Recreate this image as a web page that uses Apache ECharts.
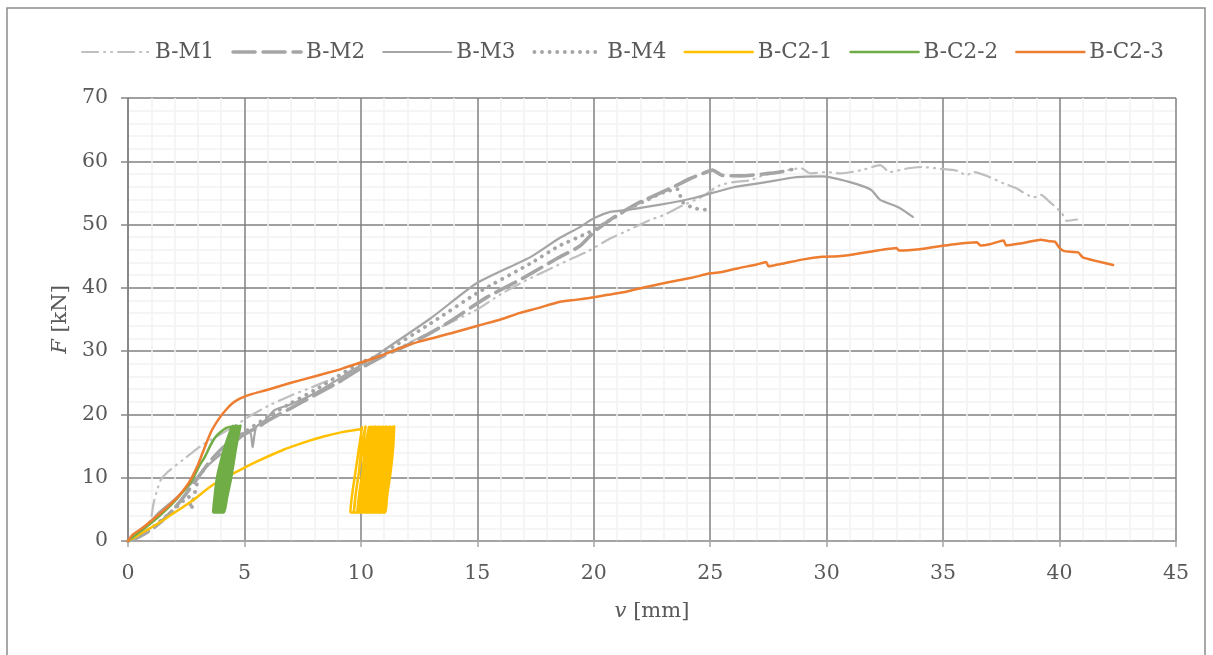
<!DOCTYPE html>
<html>
<head>
<meta charset="utf-8">
<script src="https://cdn.jsdelivr.net/npm/echarts@6/dist/echarts.min.js"></script>
<style>html,body{margin:0;padding:0;background:#fff;}#c{width:1213px;height:655px;}</style>
</head>
<body>
<div id="c"></div>
<script>
const seriesNames = ['B-M1','B-M2','B-M3','B-M4','B-C2-1','B-C2-2','B-C2-3'];
const xTicks = [0,5,10,15,20,25,30,35,40,45];
const yTicks = [0,10,20,30,40,50,60,70];

const bM1 = [[0,0],[0.4,0.8],[0.8,2.2],[1.0,3.8],[1.1,6.0],[1.25,8.0],[1.4,9.6],[1.7,10.9],[2.35,12.8],[2.8,14.1],[3.2,15.2],[3.8,16.5],[4.5,18],[5.3,19.9],[6.1,21.5],[7.0,23.0],[7.9,24.3],[9.0,26.0],[10,27.6],[11,29.5],[12,31.2],[13,33],[14,34.8],[15,36.6],[16,39],[17.1,41.2],[18,42.8],[19.1,44.7],[19.7,45.7],[20.7,47.8],[21.3,48.8],[22.4,50.7],[23,51.5],[23.8,53],[24.6,54.3],[25.4,56.2],[26,56.7],[26.7,57.0],[27.3,57.8],[27.9,58.3],[28.9,58.9],[29.3,58.1],[30,58.3],[30.6,58.1],[31.5,58.6],[32.3,59.4],[32.7,58.3],[33.5,58.9],[34.1,59.1],[34.9,58.8],[35.6,58.5],[36.0,57.8],[36.3,58.3],[37.0,57.5],[37.6,56.5],[38.1,55.8],[38.9,54.3],[39.2,54.7],[39.6,53.5],[40.1,51.8],[40.3,50.6],[40.75,50.8]];

const bM2 = [[0,0],[0.5,0.7],[1,1.8],[1.5,3.3],[2,5.2],[2.5,7.5],[3,10],[3.5,12.5],[4,14.5],[4.5,16],[5,17],[5.5,17.8],[6,19],[7,21],[8,23],[9,25],[10,27.3],[11,29.3],[12.2,31.3],[13.7,34.4],[15.4,38.5],[16.8,41.2],[18.4,44.6],[19.4,46.6],[20,48.8],[20.8,51.0],[21.9,53.4],[23.4,55.9],[24.1,57.2],[24.7,58.1],[25.1,58.6],[25.5,57.8],[26.3,57.7],[27.3,58.0],[28,58.3],[28.5,58.7]];

const bM3 = [[0,0],[0.5,1.2],[1.3,4.4],[2,6.6],[2.75,9.2],[3.45,12],[4.05,13.9],[4.47,15.2],[4.9,16.5],[5.25,17.2],[5.35,14.8],[5.5,18.0],[5.9,19.1],[6.3,20.7],[7,21.6],[8,23.3],[9,25.5],[10,27.8],[10.8,29.7],[13,35.2],[15,40.8],[17.3,44.9],[18.5,47.8],[19.4,49.6],[20,51],[20.7,52],[21.4,52.3],[22.8,53.1],[24.3,54.2],[26,55.9],[27.4,56.7],[28.7,57.5],[29.8,57.6],[31.0,56.7],[31.9,55.5],[32.3,53.9],[33.1,52.7],[33.7,51.2]];

const bM4 = [[0,0],[0.5,0.8],[1,2.0],[1.5,3.5],[2.1,5.4],[2.6,7.0],[2.72,5.0],[2.8,6.5],[2.96,9.0],[3.1,10.4],[3.45,12.2],[3.9,14.0],[4.4,15.6],[5,17.2],[6,19.6],[7,21.8],[8,23.8],[9,26],[10,28.2],[10.8,29.4],[13,34.4],[15,39.2],[17.3,43.9],[18.5,46.6],[19.8,48.8],[20.7,50.7],[21.4,52.3],[22.3,53.9],[23,55.1],[23.6,55.6],[23.8,53.6],[24.3,52.6],[24.9,52.3]];

const bC21 = [[0,0],[0.3,0.6],[0.7,1.5],[1.3,2.8],[2.0,4.5],[2.7,6.2],[3.7,9.0],[4.9,11.4],[5.5,12.5],[6.6,14.3],[7.5,15.5],[8.4,16.5],[9.2,17.2],[10.0,17.7],
[10.05,18.0],[9.93,15],[9.77,11],[9.63,7.5],[9.55,4.6],[9.67,4.5],[9.78,7.5],[9.92,11],[10.03,15],
[10.2,18.1],[10.08,15],[9.92,11],[9.78,7.5],[9.7,4.6],[9.82,4.5],[9.93,7.5],[10.07,11],[10.18,15],
[10.35,18.0],[10.23,15],[10.07,11],[9.93,7.5],[9.85,4.6],[9.97,4.5],[10.08,7.5],[10.22,11],[10.33,15],
[10.45,18.1],[10.33,15],[10.17,11],[10.03,7.5],[9.95,4.6],[10.07,4.5],[10.18,7.5],[10.32,11],[10.43,15],
[10.53,18.0],[10.41,15],[10.25,11],[10.11,7.5],[10.03,4.6],[10.15,4.5],[10.26,7.5],[10.40,11],[10.51,15],
[10.61,18.1],[10.49,15],[10.33,11],[10.19,7.5],[10.11,4.6],[10.23,4.5],[10.34,7.5],[10.48,11],[10.59,15],
[10.69,18.0],[10.57,15],[10.41,11],[10.27,7.5],[10.19,4.6],[10.31,4.5],[10.42,7.5],[10.56,11],[10.67,15],
[10.77,18.1],[10.65,15],[10.49,11],[10.35,7.5],[10.27,4.6],[10.39,4.5],[10.50,7.5],[10.64,11],[10.75,15],
[10.85,18.0],[10.73,15],[10.57,11],[10.43,7.5],[10.35,4.6],[10.47,4.5],[10.58,7.5],[10.72,11],[10.83,15],
[10.93,18.1],[10.81,15],[10.65,11],[10.51,7.5],[10.43,4.6],[10.55,4.5],[10.66,7.5],[10.80,11],[10.91,15],
[11.01,18.0],[10.89,15],[10.73,11],[10.59,7.5],[10.51,4.6],[10.63,4.5],[10.74,7.5],[10.88,11],[10.99,15],
[11.09,18.1],[10.97,15],[10.81,11],[10.67,7.5],[10.59,4.6],[10.71,4.5],[10.82,7.5],[10.96,11],[11.07,15],
[11.17,18.0],[11.05,15],[10.89,11],[10.75,7.5],[10.67,4.6],[10.79,4.5],[10.90,7.5],[11.04,11],[11.15,15],
[11.25,18.1],[11.13,15],[10.97,11],[10.83,7.5],[10.75,4.6],[10.87,4.5],[10.98,7.5],[11.12,11],[11.23,15],
[11.33,18.0],[11.21,15],[11.05,11],[10.91,7.5],[10.83,4.6],[10.95,4.5],[11.06,7.5],[11.20,11],[11.31,15],
[11.41,18.1],[11.29,15],[11.13,11],[10.99,7.5],[10.91,4.6],[11.03,4.5],[11.14,7.5],[11.28,11],[11.39,15],[11.43,18.1]];

const bC22 = [[0,0],[0.3,0.9],[0.7,2.0],[1.3,3.8],[1.8,5.5],[2.3,7.5],[2.75,9.6],[3.05,11.8],[3.3,13.3],[3.55,15.2],[3.75,16.4],[4.0,17.3],[4.25,17.9],
[4.46,18.1],[4.21,15.5],[4.01,13],[3.82,10],[3.72,7],[3.66,4.6],[3.76,4.5],[3.91,7],[4.08,10],[4.28,14.5],[4.41,17],
[4.51,18.2],[4.26,15.5],[4.06,13],[3.87,10],[3.77,7],[3.71,4.6],[3.81,4.5],[3.96,7],[4.13,10],[4.33,14.5],[4.46,17],
[4.56,18.1],[4.31,15.5],[4.11,13],[3.92,10],[3.82,7],[3.76,4.6],[3.86,4.5],[4.01,7],[4.18,10],[4.38,14.5],[4.51,17],
[4.61,18.2],[4.36,15.5],[4.16,13],[3.97,10],[3.87,7],[3.81,4.6],[3.91,4.5],[4.06,7],[4.23,10],[4.43,14.5],[4.56,17],
[4.66,18.1],[4.41,15.5],[4.21,13],[4.02,10],[3.92,7],[3.86,4.6],[3.96,4.5],[4.11,7],[4.28,10],[4.48,14.5],[4.61,17],
[4.71,18.2],[4.46,15.5],[4.26,13],[4.07,10],[3.97,7],[3.91,4.6],[4.01,4.5],[4.16,7],[4.33,10],[4.53,14.5],[4.66,17],
[4.76,18.1],[4.51,15.5],[4.31,13],[4.12,10],[4.02,7],[3.96,4.6],[4.06,4.5],[4.21,7],[4.38,10],[4.58,14.5],[4.71,17],
[4.81,18.2],[4.56,15.5],[4.36,13],[4.17,10],[4.07,7],[4.01,4.6],[4.11,4.5],[4.26,7],[4.43,10],[4.63,14.5],[4.76,17],[4.83,18.2]];

const bC23 = [[0,0],[0.2,1.0],[0.6,2.0],[1.3,4.1],[1.7,5.4],[2.15,7.0],[2.5,8.6],[2.75,10.1],[3.0,12.0],[3.2,13.9],[3.4,15.8],[3.6,17.5],[3.9,19.3],[4.2,20.7],[4.5,21.8],[4.8,22.5],[5.3,23.2],[6.0,23.9],[7.0,25.0],[8.0,26.0],[9.0,27.0],[9.4,27.5],[10,28.2],[10.8,29.2],[11.7,30.5],[12.5,31.5],[13.95,32.9],[15.1,34.1],[16.0,35.0],[16.8,36.0],[17.6,36.8],[18.55,37.8],[19.2,38.1],[19.8,38.4],[20.6,38.9],[21.4,39.4],[22.2,40.1],[23.2,40.9],[24.2,41.6],[25,42.3],[25.5,42.5],[26.2,43.1],[27.0,43.7],[27.4,44.1],[27.5,43.4],[28.2,43.9],[29.0,44.5],[29.8,44.9],[30.5,45.0],[31.0,45.2],[32.0,45.8],[33.0,46.3],[33.1,45.9],[34.0,46.1],[34.7,46.5],[35.5,46.9],[36.45,47.2],[36.6,46.7],[37.0,46.9],[37.6,47.5],[37.7,46.7],[38.3,47.0],[39.2,47.6],[39.5,47.4],[39.8,47.3],[40.0,46.3],[40.2,45.8],[40.8,45.6],[41.0,44.8],[41.5,44.3],[42.3,43.6]];

const FONT = 'DejaVu Serif';
const TXT = '#595959';
const widths = [2.2, 3.6, 2.2, 3.8, 2.5, 2.5, 2.5];

const chart = echarts.init(document.getElementById('c'), null, {renderer: 'canvas'});
function lineSeries(name, data, color, width, type, extra) {
  return Object.assign({
    name, type: 'line', data, showSymbol: false, symbol: 'none', animation: false,
    lineStyle: {color, width, type: type || 'solid', cap: 'round', join: 'round'},
    itemStyle: {color}, emphasis: {disabled: true}
  }, extra || {});
}
chart.setOption({
  animation: false,
  backgroundColor: '#ffffff',
  graphic: [{type: 'rect', shape: {x: 7, y: 8, width: 1198, height: 680}, style: {fill: 'none', stroke: '#8c8c8c', lineWidth: 1.5}, silent: true, z: 100}],
  legend: {
    top: 36, left: 76, itemWidth: 68, itemHeight: 14, itemGap: 17,
    textStyle: {fontFamily: FONT, fontSize: 21.5, color: TXT},
    itemStyle: {color: 'rgba(0,0,0,0)', borderWidth: 0, opacity: 0},
    data: seriesNames.map((n, i) => ({name: n, lineStyle: {width: widths[i]}}))
  },
  grid: {left: 128, right: 37, top: 98, bottom: 114, containLabel: false},
  xAxis: {
    type: 'value', min: xTicks[0], max: xTicks[xTicks.length - 1], interval: 5, z: 1,
    name: '{i|v} [mm]', nameLocation: 'middle', nameGap: 60,
    nameTextStyle: {fontFamily: FONT, fontSize: 21, color: TXT, rich: {i: {fontFamily: FONT, fontStyle: 'italic', fontSize: 21, color: TXT}}},
    axisLine: {show: true, lineStyle: {color: '#a6a6a6', width: 1.5}},
    axisTick: {show: true, length: 6, lineStyle: {color: '#a6a6a6', width: 1.5}},
    axisLabel: {fontFamily: FONT, fontSize: 20.5, color: TXT, margin: 22},
    splitLine: {show: true, lineStyle: {color: '#808080', width: 1.5}},
    minorTick: {show: false, splitNumber: 5},
    minorSplitLine: {show: true, lineStyle: {color: '#f2f2f2', width: 1.5}}
  },
  yAxis: {
    type: 'value', min: yTicks[0], max: yTicks[yTicks.length - 1], interval: 10, z: 0,
    name: '{i|F} [kN]', nameLocation: 'middle', nameGap: 50,
    nameTextStyle: {fontFamily: FONT, fontSize: 21, color: TXT, rich: {i: {fontFamily: FONT, fontStyle: 'italic', fontSize: 21, color: TXT}}},
    axisLine: {show: true, lineStyle: {color: '#868686', width: 1.5}},
    axisTick: {show: true, length: 7, lineStyle: {color: '#868686', width: 1.5}},
    axisLabel: {fontFamily: FONT, fontSize: 20.5, color: TXT, margin: 20},
    splitLine: {show: true, lineStyle: {color: '#808080', width: 1.5}},
    minorTick: {show: false, splitNumber: 5},
    minorSplitLine: {show: true, lineStyle: {color: '#f2f2f2', width: 1.5}}
  },
  series: [
    lineSeries(seriesNames[0], bM1, '#bfbfbf', widths[0], [16, 6, 1, 6, 1, 6], {smooth: 0.2}),
    lineSeries(seriesNames[1], bM2, '#a5a5a5', widths[1], [22, 8], {smooth: 0.2}),
    lineSeries(seriesNames[2], bM3, '#a5a5a5', widths[2], 'solid', {smooth: 0.2}),
    lineSeries(seriesNames[3], bM4, '#a5a5a5', widths[3], [0.1, 7.5], {smooth: 0.2}),
    lineSeries(seriesNames[4], bC21, '#ffc000', widths[4], 'solid', {smooth: 0.3}),
    lineSeries(seriesNames[5], bC22, '#70ad47', widths[5], 'solid', {smooth: 0.3}),
    lineSeries(seriesNames[6], bC23, '#ed7d31', widths[6], 'solid', {smooth: 0.15})
  ]
});
</script>
</body>
</html>
